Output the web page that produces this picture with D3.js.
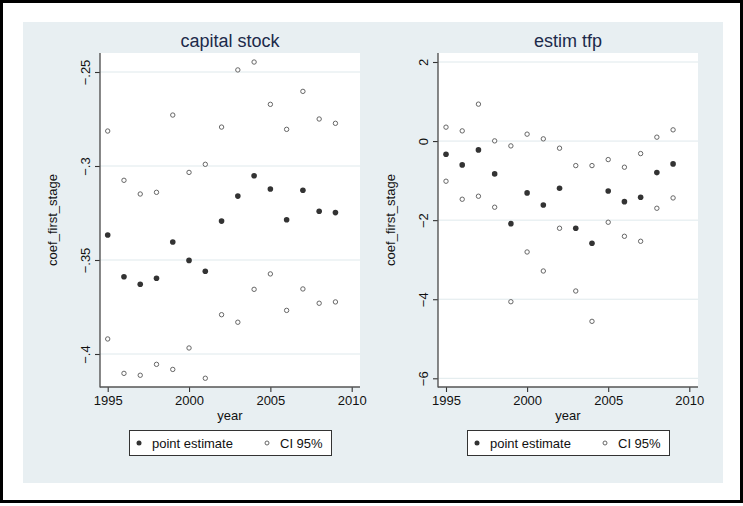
<!DOCTYPE html>
<html>
<head>
<meta charset="utf-8">
<script src="https://cdn.jsdelivr.net/npm/d3@7"></script>
<style>
  html, body { margin: 0; padding: 0; background: #fff; }
  svg { display: block; font-family: "Liberation Sans", Arial, Helvetica, sans-serif; }
</style>
</head>
<body>
<svg id="chart" width="743" height="506"></svg>
<script>
// ---------------- data ----------------
const years = [1995, 1996, 1997, 1998, 1999, 2000, 2001, 2002, 2003, 2004, 2005, 2006, 2007, 2008, 2009];

const capPoint = [-0.3367, -0.3589, -0.3629, -0.3597, -0.3404, -0.3502, -0.3560, -0.3293, -0.3160, -0.3052, -0.3122, -0.3286, -0.3129, -0.3241, -0.3248];
const capUpper = [-0.2814, -0.3076, -0.3149, -0.3140, -0.2729, -0.3034, -0.2991, -0.2793, -0.2489, -0.2447, -0.2672, -0.2805, -0.2603, -0.2750, -0.2773];
const capLower = [-0.3920, -0.4103, -0.4113, -0.4055, -0.4082, -0.3968, -0.4129, -0.3791, -0.3831, -0.3656, -0.3574, -0.3768, -0.3654, -0.3730, -0.3723];

const tfpPoint = [-0.332, -0.603, -0.223, -0.830, -2.089, -1.311, -1.615, -1.192, -2.205, -2.585, -1.261, -1.532, -1.420, -0.797, -0.577];
const tfpUpper = [0.352, 0.258, 0.934, 0.005, -0.122, 0.175, 0.056, -0.180, -0.620, -0.620, -0.468, -0.661, -0.316, 0.099, 0.284];
const tfpLower = [-1.015, -1.471, -1.395, -1.673, -4.063, -2.805, -3.286, -2.205, -3.792, -4.559, -2.053, -2.408, -2.534, -1.699, -1.438];

const xTicks = [1995, 2000, 2005, 2010];
const capYTicks = [-0.25, -0.3, -0.35, -0.4];
const capYLabels = ["\u2212.25", "\u2212.3", "\u2212.35", "\u2212.4"];
const tfpYTicks = [2, 0, -2, -4, -6];
const tfpYLabels = ["2", "0", "\u22122", "\u22124", "\u22126"];

const titles = ["capital stock", "estim tfp"];
const xTitle = "year";
const yTitle = "coef_first_stage";
const legendLabels = ["point estimate", "CI 95%"];

// ---------------- drawing ----------------
const svg = d3.select("#chart");

// outer frame
svg.append("rect").attr("x", 1.5).attr("y", 1.5).attr("width", 740).attr("height", 500)
  .attr("fill", "#fff").attr("stroke", "#000").attr("stroke-width", 3);

// graph region
svg.append("rect").attr("x", 23).attr("y", 22).attr("width", 700).attr("height", 461)
  .attr("fill", "#e8eff2");

const panels = [
  {
    title: titles[0], left: 100, right: 360,
    xDom: [1995, 2010], xRange: [107.7, 351.7],
    yDom: [-0.4, -0.25], yRange: [354, 72],
    yTicks: capYTicks, yLabels: capYLabels,
    point: capPoint, upper: capUpper, lower: capLower,
    yTitleX: 57
  },
  {
    title: titles[1], left: 438, right: 698,
    xDom: [1995, 2010], xRange: [446, 689.3],
    yDom: [-6, 2], yRange: [378.3, 62],
    yTicks: tfpYTicks, yLabels: tfpYLabels,
    point: tfpPoint, upper: tfpUpper, lower: tfpLower,
    yTitleX: 395
  }
];

const plotTop = 53, plotBottom = 387;

panels.forEach(p => {
  const g = svg.append("g");
  const x = d3.scaleLinear().domain(p.xDom).range(p.xRange);
  const y = d3.scaleLinear().domain(p.yDom).range(p.yRange);

  // plot area
  g.append("rect").attr("x", p.left).attr("y", plotTop)
    .attr("width", p.right - p.left).attr("height", plotBottom - plotTop).attr("fill", "#fff");

  // gridlines
  g.selectAll(".grid").data(p.yTicks).enter().append("line")
    .attr("x1", p.left).attr("x2", p.right)
    .attr("y1", d => y(d)).attr("y2", d => y(d))
    .attr("stroke", "#dfe9ec").attr("stroke-width", 1);

  // y axis
  const yAxis = d3.axisLeft(y).tickValues(p.yTicks)
    .tickFormat((d, i) => p.yLabels[i]).tickSize(5).tickSizeOuter(0);
  const ya = g.append("g").attr("transform", `translate(${p.left},0)`).call(yAxis);
  ya.select(".domain").remove();
  ya.append("line").attr("x1", 0).attr("x2", 0).attr("y1", plotTop).attr("y2", plotBottom + 0.5)
    .attr("stroke", "#555").attr("stroke-width", 1.4);
  ya.selectAll(".tick line").attr("stroke", "#333").attr("stroke-width", 1.1);
  ya.selectAll(".tick text")
    .attr("transform", "rotate(-90)")
    .attr("x", 0).attr("y", -10.5).attr("dy", 0)
    .attr("text-anchor", "middle")
    .attr("font-size", 13).attr("fill", "#111")
    .attr("font-family", "'Liberation Sans', Arial, sans-serif");

  // x axis
  const xAxis = d3.axisBottom(x).tickValues(xTicks).tickFormat(d3.format("d"))
    .tickSize(5).tickSizeOuter(0);
  const xa = g.append("g").attr("transform", `translate(0,${plotBottom})`).call(xAxis);
  xa.select(".domain").remove();
  xa.append("line").attr("x1", p.left).attr("x2", p.right).attr("y1", 0).attr("y2", 0)
    .attr("stroke", "#555").attr("stroke-width", 1.4);
  xa.selectAll(".tick line").attr("stroke", "#333").attr("stroke-width", 1.1);
  xa.selectAll(".tick text").attr("font-size", 13).attr("fill", "#111").attr("y", 8.5)
    .attr("font-family", "'Liberation Sans', Arial, sans-serif");

  // titles
  const cx = (p.left + p.right) / 2;
  g.append("text").attr("x", cx).attr("y", 47).attr("text-anchor", "middle")
    .attr("font-size", 18).attr("fill", "#1c2a4a").text(p.title);
  g.append("text").attr("x", cx).attr("y", 420).attr("text-anchor", "middle")
    .attr("font-size", 13).attr("fill", "#111").text(xTitle);
  g.append("text").attr("transform", `translate(${p.yTitleX},${(plotTop + plotBottom) / 2}) rotate(-90)`)
    .attr("text-anchor", "middle").attr("font-size", 13).attr("fill", "#111").text(yTitle);

  // markers
  const hollow = years.map((yr, i) => [yr, p.upper[i]]).concat(years.map((yr, i) => [yr, p.lower[i]]));
  g.selectAll(".ci").data(hollow).enter().append("circle")
    .attr("cx", d => x(d[0])).attr("cy", d => y(d[1])).attr("r", 2.2)
    .attr("fill", "#fff").attr("stroke", "#666").attr("stroke-width", 1);
  g.selectAll(".pt").data(years.map((yr, i) => [yr, p.point[i]])).enter().append("circle")
    .attr("cx", d => x(d[0])).attr("cy", d => y(d[1])).attr("r", 2.8)
    .attr("fill", "#333");

  // legend
  const lw = 202, lh = 25, lx = cx - lw / 2, ly = 430;
  const lg = g.append("g");
  lg.append("rect").attr("x", lx + 0.5).attr("y", ly + 0.5).attr("width", lw).attr("height", lh)
    .attr("fill", "#fff").attr("stroke", "#333").attr("stroke-width", 1);
  lg.append("circle").attr("cx", lx + 10).attr("cy", ly + 13).attr("r", 2.5).attr("fill", "#333");
  lg.append("text").attr("x", lx + 23).attr("y", ly + 17.5).attr("font-size", 13).attr("fill", "#111")
    .text(legendLabels[0]);
  lg.append("circle").attr("cx", lx + 138).attr("cy", ly + 13).attr("r", 2)
    .attr("fill", "#fff").attr("stroke", "#666").attr("stroke-width", 1);
  lg.append("text").attr("x", lx + 151).attr("y", ly + 17.5).attr("font-size", 13).attr("fill", "#111")
    .text(legendLabels[1]);
});
</script>
</body>
</html>
